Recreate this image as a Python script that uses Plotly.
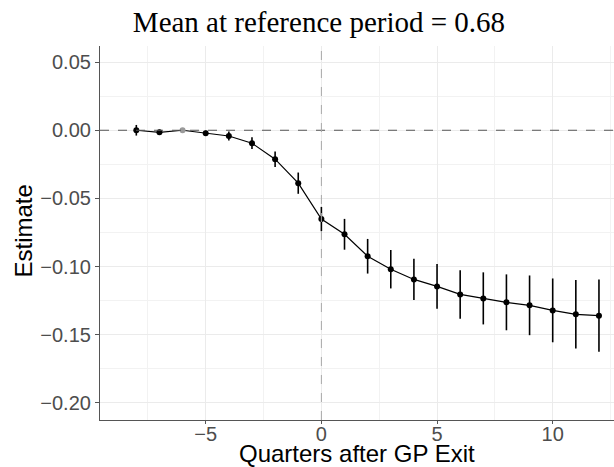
import plotly.graph_objects as go

quarters = [-8, -7, -6, -5, -4, -3, -2, -1, 0, 1, 2, 3, 4, 5, 6, 7, 8, 9, 10, 11, 12]
estimates = [0.000, -0.0015, 0.0, -0.0022, -0.0042, -0.0095, -0.0212, -0.0388,
             -0.0651, -0.0763, -0.0924, -0.1019, -0.1094, -0.1145, -0.1204,
             -0.1233, -0.1262, -0.1284, -0.1321, -0.1350, -0.1360]
ci_half = [0.0039, 0.0020, 0.0, 0.0020, 0.0033, 0.0043, 0.0057, 0.0078,
           0.0089, 0.0113, 0.0127, 0.0141, 0.0151, 0.0164, 0.0178,
           0.0191, 0.0205, 0.0219, 0.0234, 0.0251, 0.0265]
reference_q = -6
title_text = "Mean at reference period = 0.68"
x_title = "Quarters after GP Exit"
y_title = "Estimate"
x_ticks = [-5, 0, 5, 10]
y_ticks = [0.05, 0.0, -0.05, -0.10, -0.15, -0.20]

marker_colors = ["#9a9a9a" if q == reference_q else "black" for q in quarters]

fig = go.Figure()
fig.add_hline(y=0, line=dict(color="#555555", width=1, dash="dash"), layer="above")
fig.add_vline(x=0, line=dict(color="#a8a8a8", width=1, dash="dash"), layer="above")
fig.add_trace(go.Scatter(
    x=quarters, y=estimates, mode="lines+markers",
    line=dict(color="black", width=1.2),
    marker=dict(color=marker_colors, size=6),
    error_y=dict(type="data", array=ci_half, visible=True, width=0,
                 thickness=1.6, color="black"),
    showlegend=False,
))

axis_common = dict(
    showline=True, linecolor="#555555", linewidth=1.2, mirror=False,
    ticks="outside", tickcolor="#555555", tickwidth=1,
    gridcolor="#ebebeb", gridwidth=1, zeroline=False, automargin=False,
    tickfont=dict(family="Liberation Sans, Arial, sans-serif", size=20, color="#4d4d4d"),
)

fig.update_xaxes(
    **axis_common, ticklen=3, ticklabelstandoff=-7, range=[-9.57, 12.65], tickvals=x_ticks,
    ticktext=[("\u2212" + str(abs(v))) if v < 0 else str(v) for v in x_ticks],
    minor=dict(showgrid=True, gridcolor="#f2f2f2", dtick=2.5, tick0=-7.5, ticks=""),
)
fig.update_yaxes(
    **axis_common, ticklen=4, range=[-0.2125, 0.0618], tickvals=y_ticks,
    ticktext=[("\u2212" if v < 0 else "") + f"{abs(v):.2f}" for v in y_ticks],
    minor=dict(showgrid=True, gridcolor="#f2f2f2", dtick=0.025, tick0=0.025, ticks=""),
)

axis_title_font = dict(family="Liberation Sans, Arial, sans-serif", size=24, color="black")
fig.add_annotation(text=x_title, xref="paper", yref="paper", x=0.5, y=-0.0896,
                   xanchor="center", yanchor="middle", showarrow=False, font=axis_title_font)
fig.add_annotation(text=y_title, xref="paper", yref="paper", x=-0.1479, y=0.5067,
                   xanchor="center", yanchor="middle", textangle=-90, showarrow=False,
                   font=axis_title_font)

fig.update_layout(
    width=614, height=467,
    margin=dict(l=100, r=0, t=46, b=47),
    plot_bgcolor="white", paper_bgcolor="white",
    title=dict(text=title_text, xref="container", x=0.5195, xanchor="center",
               yref="container", y=0.953, yanchor="middle",
               font=dict(family="Liberation Serif, serif", size=29, color="black")),
)

fig.write_html("out.html")
